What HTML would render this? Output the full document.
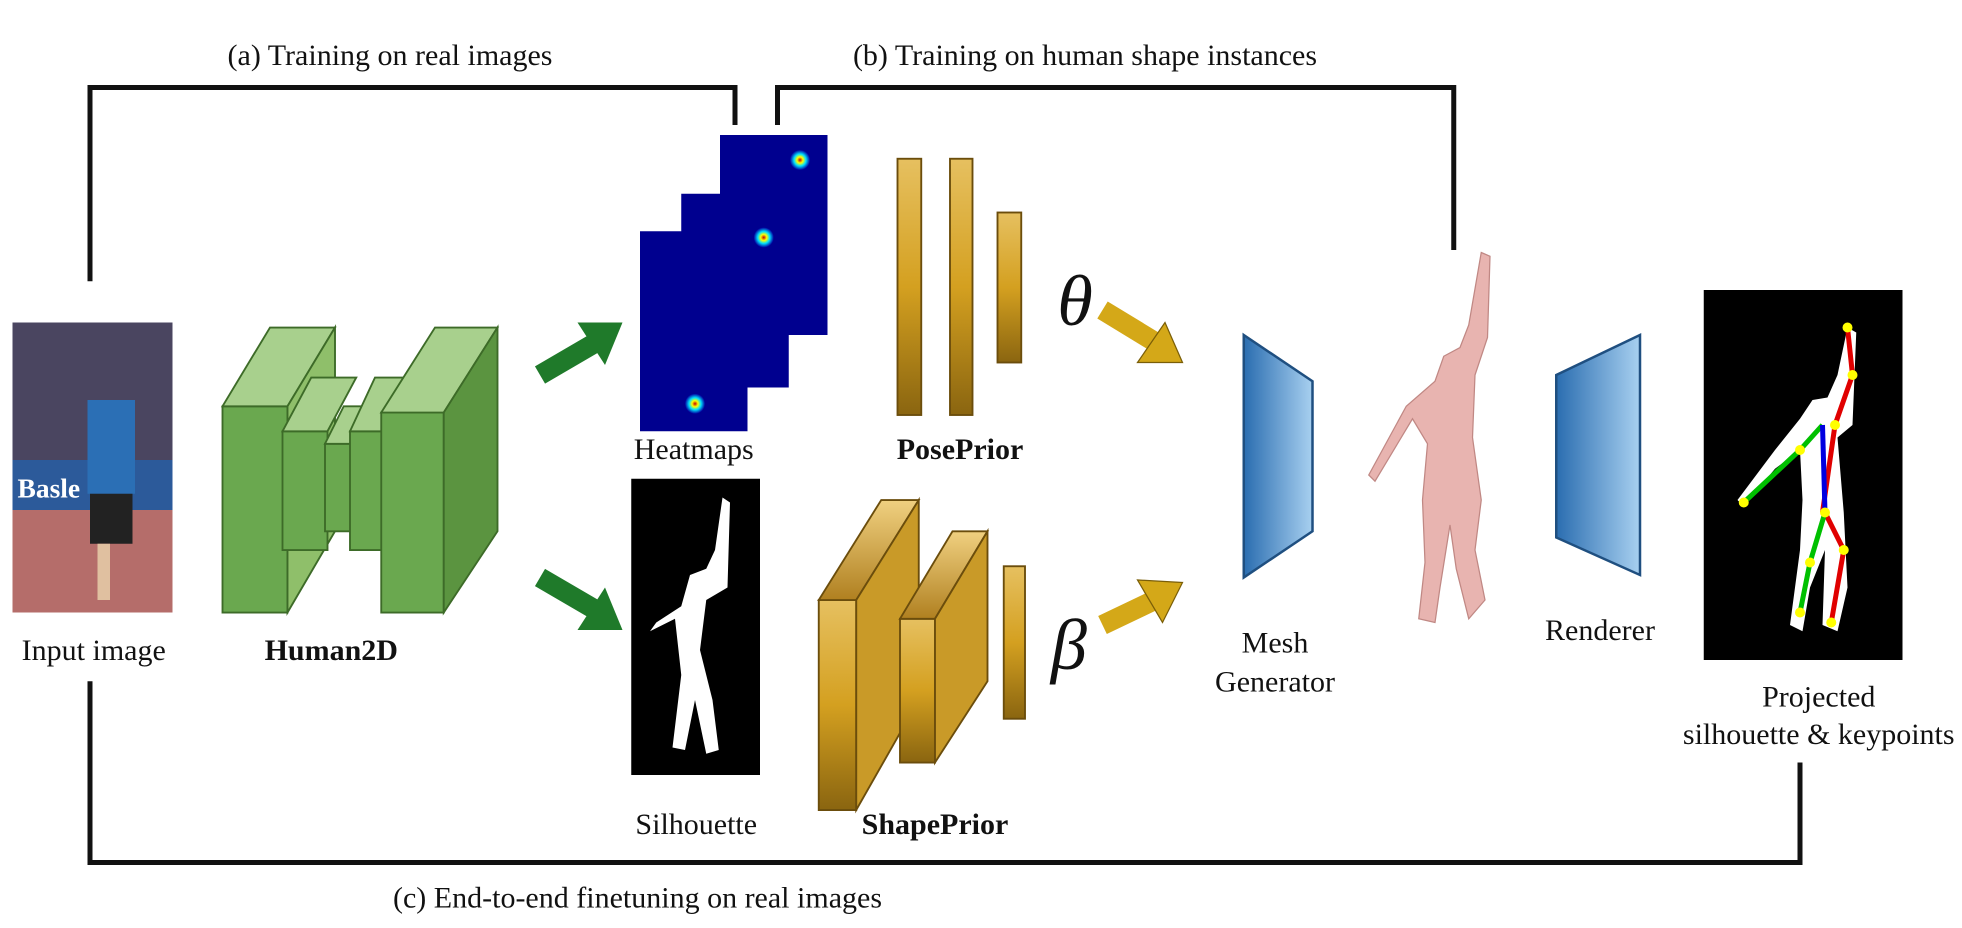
<!DOCTYPE html>
<html><head><meta charset="utf-8"><style>
html,body{margin:0;padding:0;background:#fff;}
svg{display:block;}
text{font-family:"Liberation Serif",serif;fill:#111;}
</style></head><body>
<svg width="1962" height="928" viewBox="0 0 1569.6 742.4" xmlns="http://www.w3.org/2000/svg">
<defs>
<linearGradient id="gold" x1="0" y1="0" x2="0" y2="1"><stop offset="0" stop-color="#e6c060"/><stop offset="0.5" stop-color="#d4a020"/><stop offset="1" stop-color="#8a6510"/></linearGradient>
<linearGradient id="goldside" x1="0" y1="0" x2="0" y2="1"><stop offset="0" stop-color="#f0d080"/><stop offset="1" stop-color="#b08020"/></linearGradient>
<linearGradient id="blue" x1="0" y1="0" x2="1" y2="0"><stop offset="0" stop-color="#2a6db0"/><stop offset="1" stop-color="#a8d0f0"/></linearGradient>
<radialGradient id="hot"><stop offset="0" stop-color="#c00000"/><stop offset="0.3" stop-color="#ffff00"/><stop offset="0.6" stop-color="#00e0ff"/><stop offset="1" stop-color="#0000a0"/></radialGradient>
</defs>

<g fill="none" stroke="#111" stroke-width="4">
<polyline points="72,225 72,70 588,70 588,100"/>
</g>
<g fill="none" stroke="#111" stroke-width="4">
<polyline points="622,100 622,70 1163,70 1163,200"/>
</g>
<g fill="none" stroke="#111" stroke-width="4">
<polyline points="72,545 72,690 1440,690 1440,610"/>
</g>
<text x="312" y="52" font-size="24" text-anchor="middle">(a) Training on real images</text>
<text x="868" y="52" font-size="24" text-anchor="middle">(b) Training on human shape instances</text>
<text x="510" y="726" font-size="24" text-anchor="middle">(c) End-to-end finetuning on real images</text>

<g>
<rect x="10" y="258" width="128" height="232" fill="#b56d6a"/>
<rect x="10" y="258" width="128" height="110" fill="#4a4560"/>
<rect x="10" y="368" width="128" height="40" fill="#2c5a9a"/>
<text x="14" y="398" font-size="22" font-family="Liberation Sans" style="fill:#fff" font-weight="bold">Basle</text>
<rect x="70" y="320" width="38" height="75" fill="#2b6fb5"/>
<rect x="72" y="395" width="34" height="40" fill="#222"/>
<rect x="78" y="435" width="10" height="45" fill="#e0c0a0"/>
</g>
<text x="75" y="528" font-size="24" text-anchor="middle">Input image</text>

<g stroke="#3d6b28" stroke-width="1.5">
<polygon points="178,325 178,490 230,490 230,325" fill="#6aa84f"/>
<polygon points="178,325 230,325 268,262 216,262" fill="#a8d08d"/>
<polygon points="230,325 268,262 268,425 230,490" fill="#8fbf6a"/>
<polygon points="226,345 226,440 262,440 262,345" fill="#6aa84f"/>
<polygon points="226,345 262,345 285,302 249,302" fill="#a8d08d"/>
<polygon points="260,355 260,425 290,425 290,355" fill="#6aa84f"/>
<polygon points="260,355 290,355 305,325 275,325" fill="#a8d08d"/>
<polygon points="280,345 280,440 310,440 310,345" fill="#6aa84f"/>
<polygon points="280,345 310,345 330,302 300,302" fill="#a8d08d"/>
<polygon points="305,330 305,490 355,490 355,330" fill="#6aa84f"/>
<polygon points="305,330 355,330 398,262 348,262" fill="#a8d08d"/>
<polygon points="355,330 398,262 398,425 355,490" fill="#5b9440"/>
</g>
<text x="265" y="528" font-size="24" font-weight="bold" text-anchor="middle">Human2D</text>

<g><line x1="432" y1="300" x2="480" y2="272" stroke="#1f7a2a" stroke-width="16"/><polygon points="498,258 462,258 484,292" fill="#1f7a2a"/></g>
<g><line x1="432" y1="462" x2="480" y2="490" stroke="#1f7a2a" stroke-width="16"/><polygon points="498,504 462,504 484,470" fill="#1f7a2a"/></g>

<g>
<rect x="576" y="108" width="86" height="160" fill="#00008f"/>
<rect x="545" y="155" width="86" height="155" fill="#00008f"/>
<rect x="512" y="185" width="86" height="160" fill="#00008f"/>
<circle cx="640" cy="128" r="8" fill="url(#hot)"/>
<circle cx="611" cy="190" r="8" fill="url(#hot)"/>
<circle cx="556" cy="323" r="8" fill="url(#hot)"/>
</g>
<text x="555" y="367" font-size="24" text-anchor="middle">Heatmaps</text>

<g stroke="#6b4d0c" stroke-width="1.5">
<rect x="718" y="127" width="19" height="205" fill="url(#gold)"/>
<rect x="760" y="127" width="18" height="205" fill="url(#gold)"/>
<rect x="798" y="170" width="19" height="120" fill="url(#gold)"/>
</g>
<text x="768" y="367" font-size="24" font-weight="bold" text-anchor="middle">PosePrior</text>
<text x="860" y="260" font-size="58" font-style="italic" text-anchor="middle">θ</text>

<g>
<rect x="505" y="383" width="103" height="237" fill="#000"/>
<path d="M578,398 L584,402 L582,470 L565,480 L560,520 L570,560 L575,600 L565,603 L556,560 L548,600 L538,598 L545,540 L540,495 L520,505 L525,498 L545,485 L552,460 L565,455 L572,440 Z" fill="#fff"/>
</g>
<text x="557" y="667" font-size="24" text-anchor="middle">Silhouette</text>

<g stroke="#6b4d0c" stroke-width="1.5">
<polygon points="655,480 685,480 685,648 655,648" fill="url(#gold)"/>
<polygon points="655,480 685,480 735,400 705,400" fill="url(#goldside)"/>
<polygon points="685,480 735,400 735,560 685,648" fill="#c99a28"/>
<polygon points="720,495 748,495 748,610 720,610" fill="url(#gold)"/>
<polygon points="720,495 748,495 790,425 762,425" fill="url(#goldside)"/>
<polygon points="748,495 790,425 790,545 748,610" fill="#c99a28"/>
<rect x="803" y="453" width="17" height="122" fill="url(#gold)"/>
</g>
<text x="748" y="667" font-size="24" font-weight="bold" text-anchor="middle">ShapePrior</text>
<text x="855" y="535" font-size="58" font-style="italic" text-anchor="middle">β</text>

<g><line x1="882" y1="248" x2="928" y2="276" stroke="#d4a818" stroke-width="16" /><polygon points="946,290 910,290 932,258" fill="#d4a818" stroke="#7a5e08" stroke-width="1"/></g>
<g><line x1="882" y1="500" x2="928" y2="478" stroke="#d4a818" stroke-width="16"/><polygon points="946,466 910,464 930,498" fill="#d4a818" stroke="#7a5e08" stroke-width="1"/></g>

<polygon points="995,268 1050,305 1050,425 995,462" fill="url(#blue)" stroke="#1f4f80" stroke-width="2"/>
<text x="1020" y="522" font-size="24" text-anchor="middle"><tspan x="1020">Mesh</tspan><tspan x="1020" dy="31">Generator</tspan></text>

<g fill="#e8b4b0" stroke="#c08884" stroke-width="1">
<path d="M1185,202 L1192,205 L1190,270 L1180,300 L1178,350 L1185,400 L1180,440 L1188,480 L1175,495 L1165,455 L1160,420 L1152,470 L1148,498 L1135,495 L1140,450 L1138,400 L1142,355 L1130,335 L1100,385 L1095,380 L1125,325 L1148,305 L1155,285 L1168,278 L1175,260 Z"/>
</g>

<polygon points="1245,300 1312,268 1312,460 1245,430" fill="url(#blue)" stroke="#1f4f80" stroke-width="2"/>
<text x="1280" y="512" font-size="24" text-anchor="middle">Renderer</text>

<g>
<rect x="1363" y="232" width="159" height="296" fill="#000"/>
<path d="M1478,262 L1485,266 L1482,340 L1470,350 L1475,410 L1478,470 L1470,505 L1458,500 L1460,440 L1448,470 L1442,505 L1432,500 L1440,440 L1442,400 L1440,360 L1420,375 L1395,405 L1390,400 L1420,360 L1440,335 L1450,320 L1462,318 L1470,300 Z" fill="#fff"/>
<polyline points="1478,262 1482,300 1468,340 1458,410" fill="none" stroke="#e00000" stroke-width="4"/>
<polyline points="1458,340 1440,360 1395,402" fill="none" stroke="#00c000" stroke-width="4"/>
<polyline points="1458,340 1460,410" fill="none" stroke="#0000e0" stroke-width="4"/>
<polyline points="1460,410 1475,440 1465,498" fill="none" stroke="#e00000" stroke-width="4"/>
<polyline points="1460,410 1448,450 1440,490" fill="none" stroke="#00c000" stroke-width="4"/>
<circle cx="1478" cy="262" r="4" fill="#ff0"/><circle cx="1482" cy="300" r="4" fill="#ff0"/><circle cx="1468" cy="340" r="4" fill="#ff0"/>
<circle cx="1440" cy="360" r="4" fill="#ff0"/><circle cx="1395" cy="402" r="4" fill="#ff0"/><circle cx="1460" cy="410" r="4" fill="#ff0"/>
<circle cx="1475" cy="440" r="4" fill="#ff0"/><circle cx="1448" cy="450" r="4" fill="#ff0"/><circle cx="1465" cy="498" r="4" fill="#ff0"/><circle cx="1440" cy="490" r="4" fill="#ff0"/>
</g>
<text x="1455" y="565" font-size="24" text-anchor="middle"><tspan x="1455">Projected</tspan><tspan x="1455" dy="30">silhouette &amp; keypoints</tspan></text>
</svg>
</body></html>
